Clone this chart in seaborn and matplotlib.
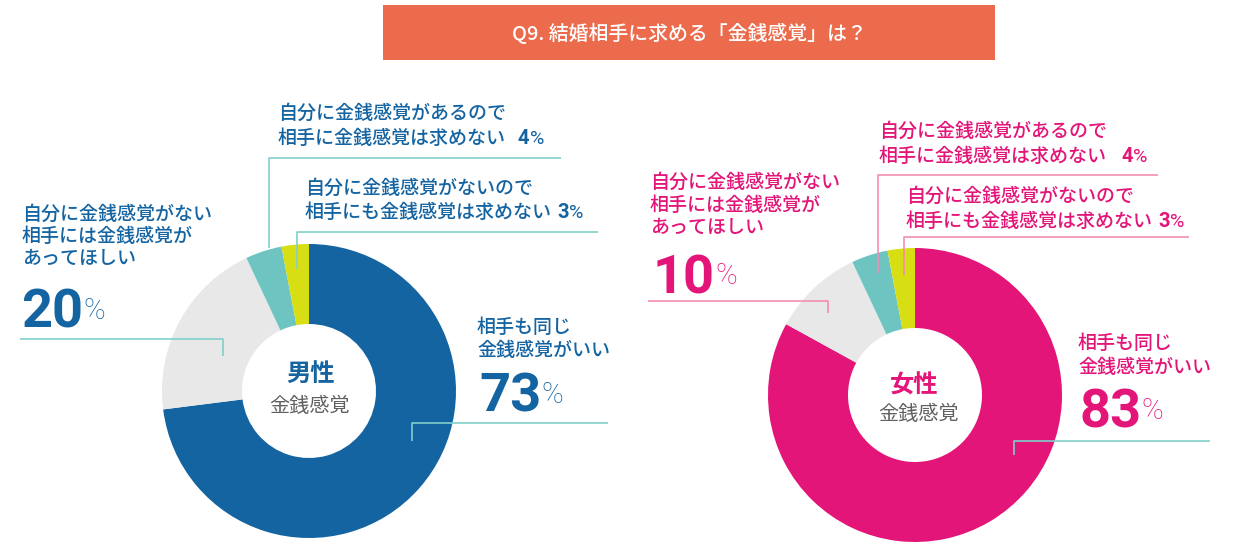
import matplotlib
matplotlib.use("Agg")
import matplotlib.pyplot as plt
from matplotlib.patches import Rectangle
import seaborn as sns

# ---------------- data ----------------
title = "Q9. 結婚相手に求める「金銭感覚」は？"
categories = [
    "相手も同じ\n金銭感覚がいい",
    "自分に金銭感覚がない\n相手には金銭感覚が\nあってほしい",
    "自分に金銭感覚があるので\n相手に金銭感覚は求めない",
    "自分に金銭感覚がないので\n相手にも金銭感覚は求めない",
]
groups = ["男性", "女性"]
center_sub = "金銭感覚"
male_values = [73, 20, 4, 3]
female_values = [83, 10, 4, 3]

# ---------------- style ----------------
sns.set_theme(style="white")
plt.rcParams["font.family"] = ["Noto Sans CJK JP", "DejaVu Sans"]

W, H = 1239, 557
fig = plt.figure(figsize=(W / 100, H / 100), dpi=100)
fig.patch.set_facecolor("white")

BLUE = "#1564A2"
PINK = "#E31578"
GRAY = "#E8E8E8"
TEAL = "#6EC4C1"
YELLOW = "#D8DE14"
LINE_TEAL = "#80CFCB"
LINE_PINK = "#F28DB2"
CENTER_GRAY = "#606060"
BANNER = "#EB6B4C"
NUM_FONT = ["Roboto", "DejaVu Sans"]


def donut(cx, cy, R, inner, vals, colors):
    ax = fig.add_axes([(cx - R) / W, 1 - (cy + R) / H, 2 * R / W, 2 * R / H])
    ax.pie(vals, colors=colors, startangle=90, counterclock=False, radius=1,
           wedgeprops=dict(width=1 - inner / R, linewidth=0))
    ax.set_xlim(-1, 1)
    ax.set_ylim(-1, 1)
    ax.set_aspect("equal")
    ax.axis("off")
    return ax


donut(309, 391, 147, 67, male_values, [BLUE, GRAY, TEAL, YELLOW])
donut(915, 395, 147, 67, female_values, [PINK, GRAY, TEAL, YELLOW])

ov = fig.add_axes([0, 0, 1, 1], zorder=5)
ov.set_xlim(0, W)
ov.set_ylim(H, 0)
ov.axis("off")
ov.patch.set_alpha(0)

renderer = fig.canvas.get_renderer()


def right_edge(t):
    return t.get_window_extent(renderer).x1


# banner
ov.add_patch(Rectangle((383, 5), 612, 55, color=BANNER, lw=0))
ov.text(689, 33, title, color="white", fontsize=14.3, ha="center", va="center",
        weight="medium")

LABEL_FS = 13.7


def label_block(x, y0, dy, text, color, pct=None, gap=10):
    lines = text.split("\n")
    last = None
    for i, ln in enumerate(lines):
        last = ov.text(x, y0 + i * dy, ln, color=color, fontsize=LABEL_FS,
                       ha="left", va="center", weight="medium")
    if pct is not None:
        xe = right_edge(last) + gap
        yb = y0 + (len(lines) - 1) * dy + 6
        t = ov.text(xe, yb, str(pct), color=color, fontsize=14.5, ha="left",
                    va="baseline", family=NUM_FONT, weight="bold")
        ov.text(right_edge(t) + 0.5, yb, "%", color=color, fontsize=14, ha="left",
                va="baseline", family=NUM_FONT, weight="normal")


def big_pct(x, baseline, value, color):
    t = ov.text(x, baseline, str(value), color=color, fontsize=39, ha="left",
                va="baseline", family=NUM_FONT, weight="bold")
    ov.text(right_edge(t) + 0.5, baseline - 9, "%", color=color, fontsize=21,
            ha="left", va="baseline", family=NUM_FONT, weight="light")


def leader(xs, ys, color):
    ov.plot(xs, ys, color=color, lw=1.2, solid_capstyle="butt")


# ---------------- male ----------------
c = BLUE
label_block(278, 113, 25, categories[2], c, male_values[2], gap=12)
label_block(305, 188, 24, categories[3], c, male_values[3], gap=5)
label_block(22, 214, 22, categories[1], c)
big_pct(21, 328, male_values[1], c)
label_block(477, 327, 23, categories[0], c)
big_pct(479, 412, male_values[0], c)

leader([20, 223, 223], [339, 339, 356], LINE_TEAL)
leader([561, 269, 269], [158, 158, 248], LINE_TEAL)
leader([598, 297, 297], [232, 232, 269], LINE_TEAL)
leader([608, 412, 412], [423, 423, 441], LINE_TEAL)

ov.text(311, 374, groups[0], color=c, fontsize=17.5, weight="bold", ha="center", va="center")
ov.text(309, 406, center_sub, color=CENTER_GRAY, fontsize=14.5, ha="center", va="center")

# ---------------- female ----------------
c = PINK
label_block(879, 131, 25, categories[2], c, female_values[2], gap=14)
label_block(906, 196, 25, categories[3], c, female_values[3], gap=5)
label_block(650, 182, 22.5, categories[1], c)
big_pct(653, 293, female_values[1], c)
label_block(1078, 343, 24, categories[0], c)
big_pct(1079, 428, female_values[0], c)

leader([648, 828, 828], [301, 301, 313], LINE_PINK)
leader([1158, 878, 878], [175, 175, 273], LINE_PINK)
leader([1189, 904, 904], [237, 237, 275], LINE_PINK)
leader([1210, 1014, 1014], [441, 441, 455], LINE_TEAL)

ov.text(914, 386, groups[1], color=c, fontsize=17.5, weight="bold", ha="center", va="center")
ov.text(918, 415, center_sub, color=CENTER_GRAY, fontsize=14.5, ha="center", va="center")

fig.savefig("out.png", dpi=100, facecolor="white")
